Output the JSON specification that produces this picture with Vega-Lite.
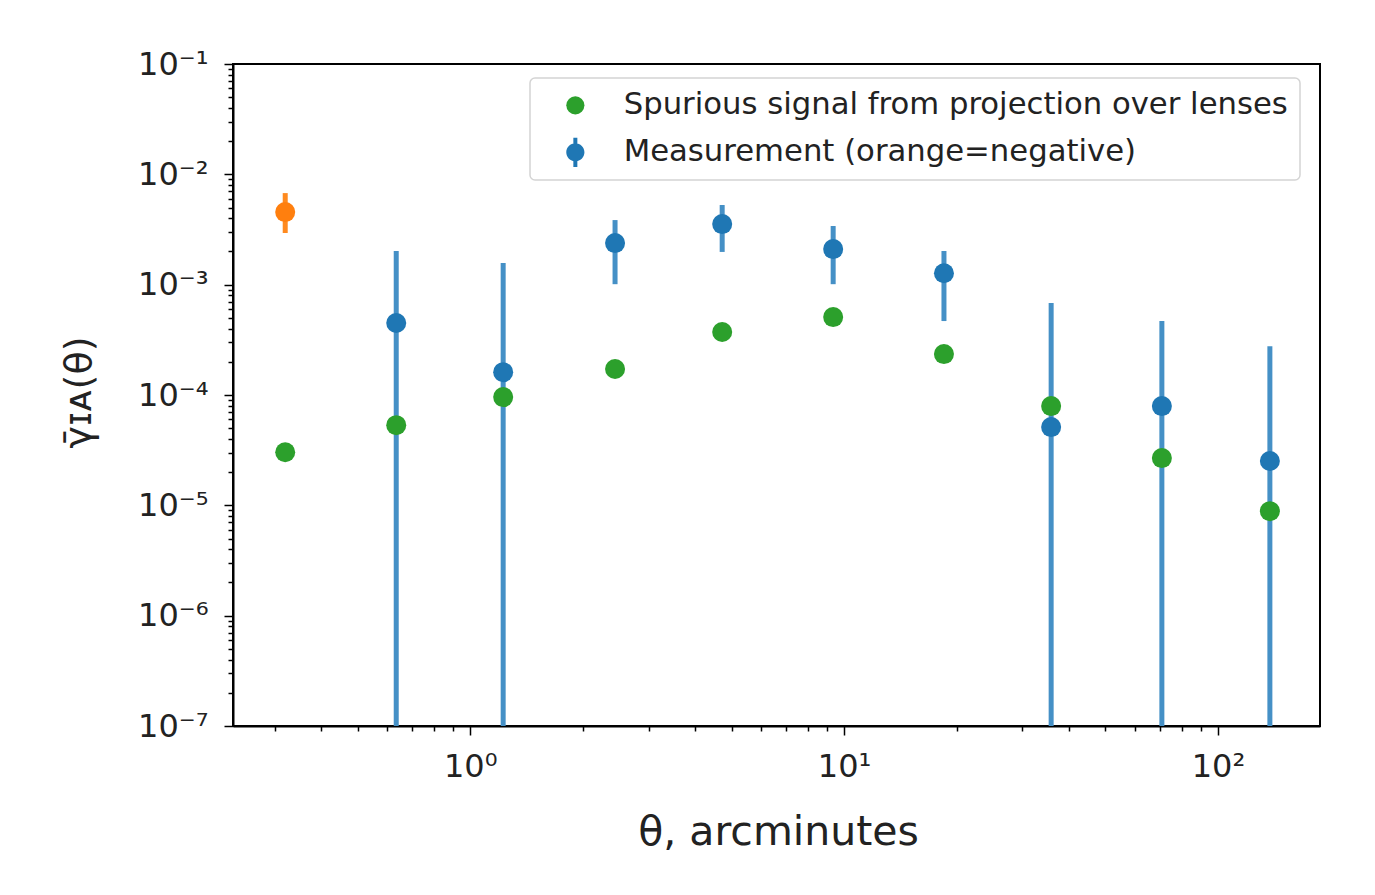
{
  "$schema": "https://vega.github.io/schema/vega-lite/v6.json",
  "width": 1087,
  "height": 662,
  "autosize": {"type": "none"},
  "padding": {"left": 233, "top": 64, "right": 55, "bottom": 169},
  "background": "white",
  "config": {
    "font": "DejaVu Sans",
    "view": {"stroke": "#000000", "strokeWidth": 2},
    "axis": {
      "domainColor": "#000000",
      "domainWidth": 2,
      "tickColor": "#000000",
      "tickWidth": 1.5,
      "labelColor": "#222222",
      "titleColor": "#222222",
      "labelFont": "DejaVu Sans",
      "titleFont": "DejaVu Sans",
      "titleFontWeight": "normal",
      "grid": false,
      "labelOverlap": false,
      "labelBound": false,
      "labelFlush": false
    },
    "legend": {
      "orient": "none",
      "legendX": 297,
      "legendY": 14,
      "padding": 12,
      "fillColor": "white",
      "strokeColor": "#d4d4d4",
      "strokeWidth": 1.5,
      "cornerRadius": 5,
      "labelFont": "DejaVu Sans",
      "labelFontSize": 30.7,
      "labelColor": "#222222",
      "labelLimit": 900,
      "labelOffset": 33,
      "symbolOffset": 18,
      "symbolSize": 330,
      "symbolStrokeWidth": 0,
      "rowPadding": 15,
      "title": null
    }
  },
  "data": {
    "values": [
      {"theta": 0.32, "value": 3.03e-5, "series": "Spurious signal from projection over lenses"},
      {"theta": 0.634, "value": 5.33e-5, "series": "Spurious signal from projection over lenses"},
      {"theta": 1.225, "value": 9.57e-5, "series": "Spurious signal from projection over lenses"},
      {"theta": 2.44, "value": 1.72e-4, "series": "Spurious signal from projection over lenses"},
      {"theta": 4.72, "value": 3.72e-4, "series": "Spurious signal from projection over lenses"},
      {"theta": 9.35, "value": 5.08e-4, "series": "Spurious signal from projection over lenses"},
      {"theta": 18.5, "value": 2.35e-4, "series": "Spurious signal from projection over lenses"},
      {"theta": 35.8, "value": 7.93e-5, "series": "Spurious signal from projection over lenses"},
      {"theta": 70.8, "value": 2.68e-5, "series": "Spurious signal from projection over lenses"},
      {"theta": 137.7, "value": 8.86e-6, "series": "Spurious signal from projection over lenses"},
      {"theta": 0.32, "value": 4.55e-3, "lo": 2.94e-3, "hi": 6.76e-3, "series": "Measurement (orange=negative)", "sign": "negative"},
      {"theta": 0.634, "value": 4.49e-4, "lo": 1e-8, "hi": 2.02e-3, "series": "Measurement (orange=negative)", "sign": "positive"},
      {"theta": 1.225, "value": 1.61e-4, "lo": 1e-8, "hi": 1.57e-3, "series": "Measurement (orange=negative)", "sign": "positive"},
      {"theta": 2.44, "value": 2.38e-3, "lo": 1.01e-3, "hi": 3.85e-3, "series": "Measurement (orange=negative)", "sign": "positive"},
      {"theta": 4.72, "value": 3.54e-3, "lo": 1.98e-3, "hi": 5.27e-3, "series": "Measurement (orange=negative)", "sign": "positive"},
      {"theta": 9.35, "value": 2.1e-3, "lo": 1.01e-3, "hi": 3.4e-3, "series": "Measurement (orange=negative)", "sign": "positive"},
      {"theta": 18.5, "value": 1.27e-3, "lo": 4.68e-4, "hi": 2.02e-3, "series": "Measurement (orange=negative)", "sign": "positive"},
      {"theta": 35.8, "value": 5.12e-5, "lo": 1e-8, "hi": 6.81e-4, "series": "Measurement (orange=negative)", "sign": "positive"},
      {"theta": 70.8, "value": 7.93e-5, "lo": 1e-8, "hi": 4.68e-4, "series": "Measurement (orange=negative)", "sign": "positive"},
      {"theta": 137.7, "value": 2.52e-5, "lo": 1e-8, "hi": 2.77e-4, "series": "Measurement (orange=negative)", "sign": "positive"}
    ]
  },
  "encoding": {
    "x": {
      "field": "theta",
      "type": "quantitative",
      "scale": {"type": "log", "domain": [0.232, 187.5], "nice": false},
      "axis": {
        "title": "θ, arcminutes",
        "titleFontSize": 41,
        "titleX": 545,
        "titleY": 106,
        "titleBaseline": "middle",
        "titleAlign": "center",
        "labelFontSize": 32,
        "labelPadding": 16,
        "values": [0.3, 0.4, 0.5, 0.6, 0.7, 0.8, 0.9, 1, 2, 3, 4, 5, 6, 7, 8, 9, 10, 20, 30, 40, 50, 60, 70, 80, 90, 100],
        "labelExpr": "abs(log(datum.value)/LN10 - round(log(datum.value)/LN10)) < 1e-6 ? '10' + (datum.value < 0.99 ? '⁻' : '') + ['⁰','¹','²','³','⁴','⁵','⁶','⁷','⁸','⁹'][abs(round(log(datum.value)/LN10))] : ''",
        "tickSize": {"condition": {"test": "abs(log(datum.value)/LN10 - round(log(datum.value)/LN10)) < 1e-6", "value": 9}, "value": 5}
      }
    },
    "y": {
      "field": "value",
      "type": "quantitative",
      "scale": {"type": "log", "domain": [1e-7, 0.1], "nice": false},
      "axis": {
        "title": "γ̄ɪᴀ(θ)",
        "titleFontSize": 38,
        "titleX": -154,
        "titleY": 328,
        "titleBaseline": "middle",
        "titleAlign": "center",
        "titleAngle": -90,
        "labelFontSize": 32,
        "labelPadding": 16,
        "values": [1e-7, 2e-7, 3e-7, 4e-7, 5e-7, 6e-7, 7e-7, 8e-7, 9e-7, 1e-6, 2e-6, 3e-6, 4e-6, 5e-6, 6e-6, 7e-6, 8e-6, 9e-6, 1e-5, 2e-5, 3e-5, 4e-5, 5e-5, 6e-5, 7e-5, 8e-5, 9e-5, 1e-4, 2e-4, 3e-4, 4e-4, 5e-4, 6e-4, 7e-4, 8e-4, 9e-4, 0.001, 0.002, 0.003, 0.004, 0.005, 0.006, 0.007, 0.008, 0.009, 0.01, 0.02, 0.03, 0.04, 0.05, 0.06, 0.07, 0.08, 0.09, 0.1],
        "labelExpr": "abs(log(datum.value)/LN10 - round(log(datum.value)/LN10)) < 1e-6 ? '10' + (datum.value < 0.99 ? '⁻' : '') + ['⁰','¹','²','³','⁴','⁵','⁶','⁷','⁸','⁹'][abs(round(log(datum.value)/LN10))] : ''",
        "tickSize": {"condition": {"test": "abs(log(datum.value)/LN10 - round(log(datum.value)/LN10)) < 1e-6", "value": 9}, "value": 5}
      }
    }
  },
  "layer": [
    {
      "transform": [{"filter": "datum.series === 'Measurement (orange=negative)'"}],
      "mark": {"type": "rule", "strokeWidth": 5, "clip": true},
      "encoding": {
        "y": {"field": "lo", "type": "quantitative"},
        "y2": {"field": "hi"},
        "color": {"condition": {"test": "datum.sign === 'negative'", "value": "#ff8a1f"}, "value": "#4590c6"}
      }
    },
    {
      "transform": [{"filter": "datum.series === 'Measurement (orange=negative)'"}],
      "mark": {"type": "point", "filled": true, "opacity": 1, "size": 400, "shape": "circle", "strokeWidth": 0},
      "encoding": {
        "color": {"condition": {"test": "datum.sign === 'negative'", "value": "#ff7f0e"}, "value": "#1f77b4"}
      }
    },
    {
      "transform": [{"filter": "datum.series === 'Spurious signal from projection over lenses'"}],
      "mark": {"type": "point", "filled": true, "opacity": 1, "size": 400, "strokeWidth": 0},
      "encoding": {
        "color": {
          "field": "series",
          "type": "nominal",
          "scale": {
            "domain": ["Spurious signal from projection over lenses", "Measurement (orange=negative)"],
            "range": ["#2ca02c", "#1f77b4"]
          },
          "legend": {"title": null}
        },
        "shape": {
          "field": "series",
          "type": "nominal",
          "scale": {
            "domain": ["Spurious signal from projection over lenses", "Measurement (orange=negative)"],
            "range": ["circle", "M-1,0A1,1,0,1,1,1,0A1,1,0,1,1,-1,0Z M-0.22,-1.6L0.22,-1.6L0.22,1.6L-0.22,1.6Z"]
          },
          "legend": {"title": null}
        }
      }
    }
  ]
}
